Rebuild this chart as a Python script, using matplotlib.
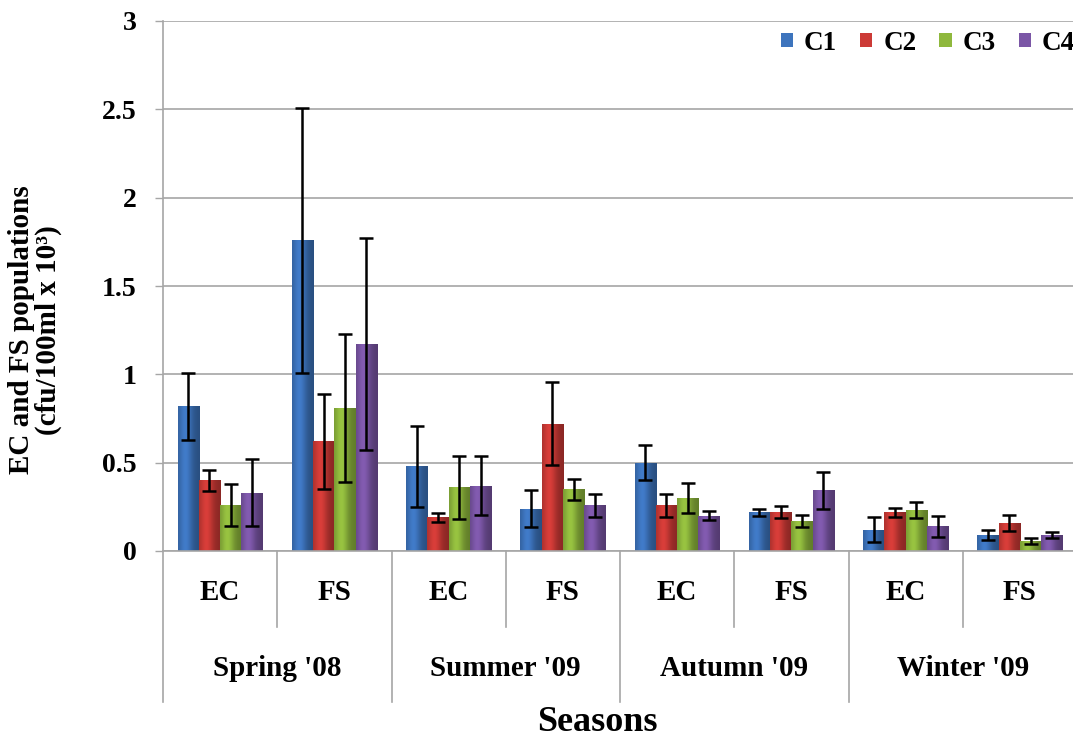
import numpy as np
import matplotlib
matplotlib.use("Agg")
import matplotlib.pyplot as plt
from matplotlib.transforms import blended_transform_factory
from matplotlib.patches import Patch
from matplotlib.colors import to_rgb

# ---------------------------------------------------------------------------
# data
# ---------------------------------------------------------------------------
seasons = ["Spring '08", "Summer '09", "Autumn '09", "Winter '09"]
groups = ["EC", "FS"]
series = ["C1", "C2", "C3", "C4"]

c1 = [0.82, 1.76, 0.48, 0.24, 0.50, 0.22, 0.12, 0.09]
c2 = [0.40, 0.62, 0.19, 0.72, 0.26, 0.22, 0.22, 0.16]
c3 = [0.26, 0.81, 0.36, 0.35, 0.30, 0.17, 0.23, 0.057]
c4 = [0.33, 1.17, 0.37, 0.26, 0.20, 0.345, 0.14, 0.09]

c1_err = [0.19, 0.75, 0.23, 0.105, 0.10, 0.02, 0.07, 0.03]
c2_err = [0.06, 0.27, 0.025, 0.235, 0.065, 0.035, 0.025, 0.045]
c3_err = [0.12, 0.42, 0.18, 0.06, 0.085, 0.035, 0.045, 0.015]
c4_err = [0.19, 0.60, 0.165, 0.065, 0.025, 0.105, 0.06, 0.017]

yticks = [0, 0.5, 1, 1.5, 2, 2.5, 3]
ytick_labels = ["0", "0.5", "1", "1.5", "2", "2.5", "3"]

values = [c1, c2, c3, c4]
errors = [c1_err, c2_err, c3_err, c4_err]
colors = ["#3d74bd", "#cc3a36", "#8fb83d", "#7b56a6"]

SERIF = "Liberation Serif"
GRID = "#a6a6a6"

W, H = 1073, 739
fig = plt.figure(figsize=(W / 100, H / 100), dpi=100)
ax = fig.add_axes([163 / W, (H - 551) / H, 914 / W, 530 / H])

n_cat = len(seasons) * len(groups)
x = np.arange(n_cat)
bw = 0.186


def shade(color):
    # horizontal bevel-like gradient across a bar
    base = np.array(to_rgb(color))
    t = np.linspace(0, 1, 40)
    f = 0.78 + 0.32 * np.exp(-((t - 0.35) / 0.3) ** 2) - 0.1 * t
    img = np.clip(base[None, :] * f[:, None], 0, 1)
    return img[None, :, :]


for i, (vals, errs, col) in enumerate(zip(values, errors, colors)):
    pos = x + (i - 1.5) * bw
    bars = ax.bar(pos, vals, bw, color=col, edgecolor="none", zorder=2)
    for b in bars:
        x0, w, h = b.get_x(), b.get_width(), b.get_height()
        im = ax.imshow(shade(col), extent=(x0, x0 + w, 0, h), aspect="auto",
                       interpolation="bilinear", zorder=2.5)
        im.set_clip_path(b)
    ax.errorbar(pos, vals, yerr=errs, fmt="none", ecolor="black", elinewidth=1.8,
                capsize=5, capthick=1.8, zorder=3)

ax.set_xlim(-0.5, n_cat - 0.5)
ax.set_ylim(0, 3)
ax.set_yticks(yticks)
ax.set_yticklabels(ytick_labels, fontfamily=SERIF, fontweight="bold", fontsize=20)
ax.set_xticks([])
ax.tick_params(axis="y", direction="out", length=6, width=1, color=GRID, pad=13)
ax.grid(axis="y", color=GRID, linewidth=1.2, zorder=0)
ax.set_axisbelow(True)
for s in ["top", "right"]:
    ax.spines[s].set_visible(False)
for s in ["left", "bottom"]:
    ax.spines[s].set_color(GRID)
    ax.spines[s].set_linewidth(1.2)

# multi-level category axis
tr = blended_transform_factory(ax.transData, ax.transAxes)
for k in range(len(seasons)):
    ax.plot([2 * k + 0.5] * 2, [0, -0.143], transform=tr, color=GRID, lw=1.2, clip_on=False)
for k in range(len(seasons) + 1):
    ax.plot([2 * k - 0.5] * 2, [0, -0.285], transform=tr, color=GRID, lw=1.2, clip_on=False)
for j in range(n_cat):
    ax.text(j, -0.079, groups[j % 2], transform=tr, ha="center", va="center",
            fontfamily=SERIF, fontweight="bold", fontsize=21)
for k, s in enumerate(seasons):
    ax.text(2 * k + 0.5, -0.221, s, transform=tr, ha="center", va="center",
            fontfamily=SERIF, fontweight="bold", fontsize=21)

fig.text(597 / W, 1 - 706 / H, "Seasons", ha="center", va="top",
         fontfamily=SERIF, fontweight="bold", fontsize=26)

fig.text(35 / W, 1 - 330 / H, "EC and FS populations\n(cfu/100ml x 10³)", rotation=90,
         ha="center", va="center", multialignment="center", linespacing=0.95,
         fontfamily=SERIF, fontweight="bold", fontsize=21)

handles = [Patch(facecolor=c, edgecolor="none") for c in colors]
fig.legend(handles, series, loc="center left", bbox_to_anchor=(781 / W, 1 - 43 / H),
           ncol=4, frameon=False, borderpad=0, borderaxespad=0,
           handlelength=0.45, handleheight=0.45, handletextpad=0.4, columnspacing=0.85,
           prop={"family": SERIF, "weight": "bold", "size": 19.5})

fig.savefig("out.png", dpi=100)
